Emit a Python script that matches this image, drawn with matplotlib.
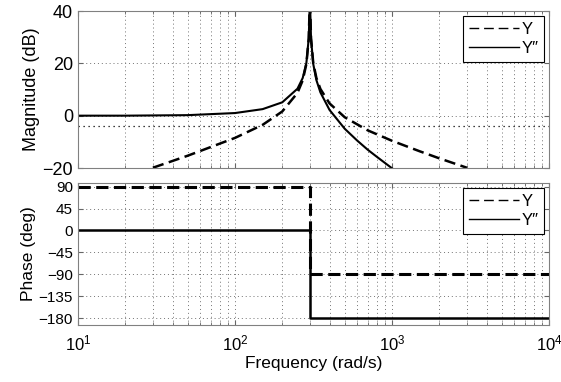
import matplotlib
matplotlib.use('Agg')
import matplotlib.pyplot as plt
import numpy as np

plt.rcParams['font.family'] = ['Liberation Sans', 'DejaVu Sans']

# magnitude curves (rad/s, dB)
w_y = [30, 50, 100, 150, 200, 250, 270, 285, 295, 299, 301, 305, 315, 330,
       350, 400, 500, 700, 1000, 1500, 2000, 3000]
mag_y = [-19.9, -15.3, -8.5, -3.5, 1.6, 8.7, 13.5, 19.8, 29.5, 42, 42, 29.6,
         20.2, 14.4, 10.2, 4.7, -0.6, -5.6, -9.6, -13.6, -16.3, -19.9]

w_ypp = [10, 20, 50, 100, 150, 200, 250, 270, 285, 295, 299, 301, 305, 315,
         330, 350, 400, 500, 600, 700, 800, 1000]
mag_ypp = [0.0, 0.0, 0.2, 1.0, 2.5, 5.1, 10.3, 14.4, 20.2, 29.6, 42, 42, 29.5,
           19.8, 13.6, 8.9, 2.2, -5.0, -9.5, -13.0, -15.7, -20.1]

# phase curves (deg)
w_phase = [10, 300, 300, 10000]
ph_y = [90, 90, -90, -90]
ph_ypp = [0, 0, -180, -180]

labels = ['Y', 'Y\u2033']
mag_ticks = [-20, 0, 20, 40]
phase_ticks = [-180, -135, -90, -45, 0, 45, 90]

fig = plt.figure(figsize=(5.61, 3.82), dpi=100)
ax1 = fig.add_axes([0.139, 0.5602, 0.8396, 0.411])
ax2 = fig.add_axes([0.139, 0.1492, 0.8396, 0.3725])

ax1.plot(w_y, mag_y, color='black', lw=1.8, linestyle=(0, (4.5, 2.2)), label=labels[0])
ax1.plot(w_ypp, mag_ypp, color='black', lw=1.5, label=labels[1])
ax2.plot(w_phase, ph_y, color='black', lw=2.2, linestyle=(0, (4, 1.8)), label=labels[0])
ax2.plot(w_phase, ph_ypp, color='black', lw=1.8, label=labels[1])

ax1.set_ylim(-20, 40)
ax1.set_yticks(mag_ticks)
ax1.axhline(-4, color='black', lw=0.9, linestyle=(0, (1, 3)), zorder=0)
ax2.set_ylim(-194, 98)
ax2.set_yticks(phase_ticks)

for ax in (ax1, ax2):
    ax.set_xscale('log')
    ax.set_xlim(10, 1e4)
    ax.grid(True, which='major', color='0.45', linestyle=(0, (1, 3)), lw=0.7)
    ax.grid(True, which='minor', axis='x', color='0.45', linestyle=(0, (1, 3)), lw=0.7)
    ax.tick_params(which='both', direction='in', top=True, right=True,
                   color='0.4')
    for s in ax.spines.values():
        s.set_color('0.5')
    leg = ax.legend(loc='upper right', fontsize=12, handlelength=3.0,
                    fancybox=False, framealpha=1, borderaxespad=0.3,
                    borderpad=0.35, handletextpad=0.15, labelspacing=0.25)
    leg.get_frame().set_edgecolor('black')
    leg.get_frame().set_linewidth(0.8)
    handles = leg.get_lines()
    for h in handles:
        h.set_linewidth(1.0)
    handles[0].set_linestyle((0, (7, 3.5)))

ax1.tick_params(axis='y', labelsize=13)
ax1.tick_params(axis='x', which='both', labelbottom=False)
ax1.set_ylabel('Magnitude (dB)', fontsize=13, labelpad=2)
ax2.tick_params(axis='y', labelsize=11)
ax2.tick_params(axis='x', labelsize=12, pad=6)
ax2.set_ylabel('Phase (deg)', fontsize=12.5, labelpad=2)
ax2.set_xlabel('Frequency (rad/s)', fontsize=12.5, labelpad=2)

fig.savefig('out.png', dpi=100)
